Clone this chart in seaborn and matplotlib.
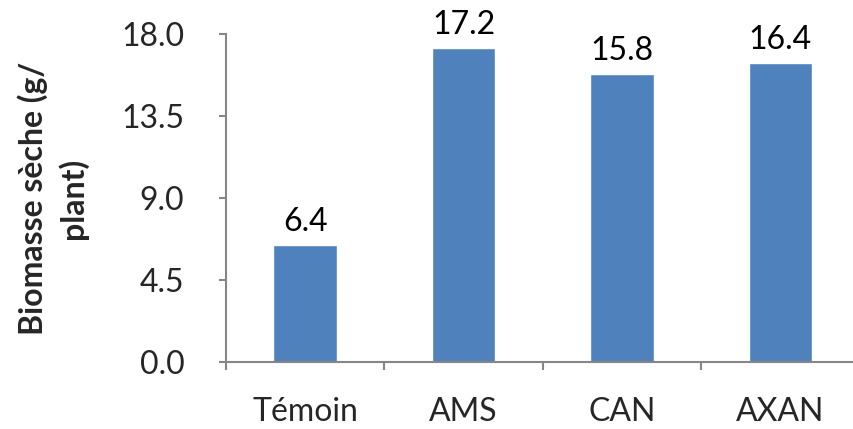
import matplotlib
matplotlib.use("Agg")
import matplotlib.pyplot as plt
import seaborn as sns
import pandas as pd
from matplotlib.ticker import FixedLocator

categories = ["Témoin", "AMS", "CAN", "AXAN"]
biomasse = [6.4, 17.2, 15.8, 16.4]
y_ticks = [0.0, 4.5, 9.0, 13.5, 18.0]

df = pd.DataFrame({"traitement": categories, "biomasse": biomasse})

sns.set_theme(style="white")
plt.rcParams["font.family"] = ["Lato", "DejaVu Sans"]

FS = 23
AXIS_GREY = "#868686"

fig = plt.figure(figsize=(8.54, 4.29), dpi=100)
ax = fig.add_axes([0.2646, 0.156, 0.742, 0.765])

sns.barplot(data=df, x="traitement", y="biomasse", color="#4F81BD",
            width=0.4, saturation=1, ax=ax, errorbar=None)

ax.set_ylim(0, 18)
ax.set_xlim(-0.5, len(categories) - 0.5)
ax.set_yticks(y_ticks)
ax.set_yticklabels([f"{t:.1f}" for t in y_ticks], fontsize=FS)

# category separators as tick marks, labels centred on bars
ax.xaxis.set_major_locator(FixedLocator([i - 0.5 for i in range(len(categories))]))
ax.xaxis.set_major_formatter(plt.NullFormatter())
ax.xaxis.set_minor_locator(FixedLocator(range(len(categories))))
ax.set_xticklabels(categories, minor=True, fontsize=FS)
ax.tick_params(axis="x", which="minor", bottom=True, length=0, pad=25)
ax.tick_params(axis="x", which="major", bottom=True, length=5.5, width=1.5,
               color=AXIS_GREY, direction="out")
ax.tick_params(axis="y", left=True, length=5, width=1.5, color=AXIS_GREY,
               direction="out", pad=25)

for side in ["top", "right"]:
    ax.spines[side].set_visible(False)
for side in ["left", "bottom"]:
    ax.spines[side].set_color(AXIS_GREY)
    ax.spines[side].set_linewidth(1.5)

ax.set_xlabel("")
ax.set_ylabel("Biomasse sèche (g/\nplant)", fontsize=23, fontweight="bold",
              linespacing=1.35)
ax.yaxis.set_label_coords(-0.218, 0.5)

for i, v in enumerate(biomasse):
    ax.annotate(f"{v:.1f}", (i, v), xytext=(0, 6), textcoords="offset points",
                ha="center", va="bottom", fontsize=FS, color="black")

fig.savefig("out.png", dpi=100)
